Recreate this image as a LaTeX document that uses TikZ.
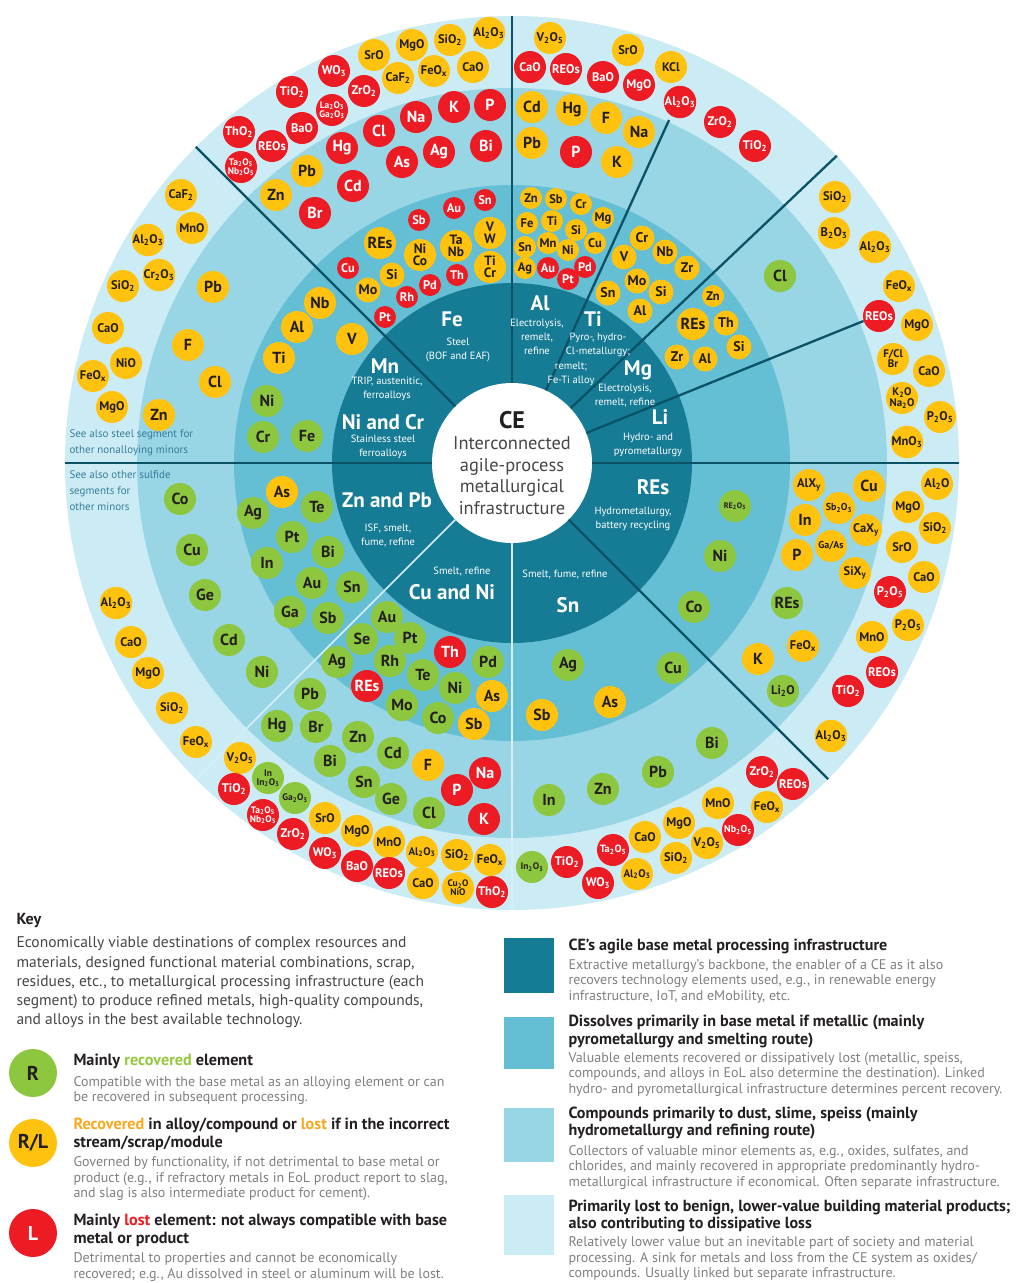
\documentclass[tikz,border=0pt]{standalone}
\usepackage{fontspec}
\setmainfont{PT Sans}
\usepackage{tikz}
\usetikzlibrary{positioning,calc}

\definecolor{grn}{RGB}{141,198,63}
\definecolor{ylw}{RGB}{255,194,14}
\definecolor{rd}{RGB}{237,28,36}
\definecolor{txt}{RGB}{35,31,32}
\definecolor{ringA}{RGB}{22,124,149}
\definecolor{ringB}{RGB}{100,190,212}
\definecolor{ringC}{RGB}{152,213,229}
\definecolor{ringD}{RGB}{204,236,245}
\definecolor{lineclr}{RGB}{12,82,102}
\definecolor{sepclr}{RGB}{215,240,248}
\definecolor{seetxt}{RGB}{55,125,155}
\definecolor{grnt}{RGB}{150,200,60}
\definecolor{orgt}{RGB}{247,168,30}
\definecolor{keygray}{RGB}{128,128,128}
\definecolor{cegray}{RGB}{70,70,70}

\newcommand{\subi}[1]{\textsubscript{#1}}

\tikzset{
  bub/.style={circle, inner sep=0pt, minimum size=32pt, align=center,
              font=\fontsize{16}{14}\selectfont\bfseries},
  rec/.style={bub, fill=grn, text=txt},
  mix/.style={bub, fill=ylw, text=txt},
  lost/.style={bub, fill=rd, text=white},
  cpd/.style={font=\fontsize{12.5}{11}\selectfont\bfseries},
  twocpd/.style={font=\fontsize{9.5}{9}\selectfont\bfseries},
  twoel/.style={font=\fontsize{13.5}{11.5}\selectfont\bfseries},
  sml/.style={minimum size=22pt, font=\fontsize{12.5}{11}\selectfont\bfseries},
  medb/.style={minimum size=25pt, font=\fontsize{14}{12}\selectfont\bfseries},
  divider/.style={draw=lineclr, line width=2.3pt},
  lightsep/.style={draw=sepclr, line width=1.6pt},
  seg/.style={text=white, font=\fontsize{21}{21}\selectfont\bfseries},
  proc/.style={text=white, align=center, font=\fontsize{10.5}{14}\selectfont},
  seealso/.style={anchor=west, align=left, text=seetxt, font=\fontsize{11}{16}\selectfont},
  khead/.style={anchor=west, align=left, text=txt, font=\fontsize{16.2}{18}\selectfont\bfseries},
  kbody/.style={anchor=west, align=left, text=keygray, font=\fontsize{14}{15.5}\selectfont},
  sq/.style={minimum width=50pt, inner sep=0pt},
}

\begin{document}
\begin{tikzpicture}[x=1pt,y=-1pt]
  \useasboundingbox (0,0) rectangle (1023,1283);
  \fill[white] (0,0) rectangle (1023,1283);

  \coordinate (c) at (512,463);
  \fill[ringD] (c) circle (447pt);
  \fill[ringC] (c) circle (375pt);
  \fill[ringB] (c) circle (278pt);
  \fill[ringA] (c) circle (180pt);
  \node[circle, fill=white, minimum size=160pt, inner sep=0pt, align=center,
        text=cegray, font=\fontsize{18.4}{21.5}\selectfont] (ce) at (c)
        {{\fontsize{24}{27}\selectfont\bfseries\color{txt}CE}\\Interconnected\\agile-process\\metallurgical\\infrastructure};

  \draw[divider] (ce.90) -- ++(90:367pt);
  \draw[divider] (ce.135) -- ++(135:367pt);
  \draw[divider] (ce.180) -- ++(180:367pt);
  \draw[divider] (ce.0) -- ++(0:367pt);
  \draw[divider] (ce.-45) -- ++(-45:367pt);
  \draw[divider] (ce.43.5) -- ++(43.5:367pt);
  \draw[divider] (ce.65.5) -- ++(65.5:297pt);
  \draw[divider] (ce.22) -- ++(22:299pt);
  \draw[lightsep] (ce.-90) -- ++(-90:367pt);
  \draw[lightsep] (ce.225) -- ++(225:367pt);

  % base metal segments
  \node[seg] (fe) at (452,319) {Fe};
  \node[proc] (fe-p) at (458,350) {Steel\\(BOF and EAF)};
  \node[seg] (al) at (540,303) {Al};
  \node[proc] (al-p) at (537,337) {Electrolysis,\\remelt,\\refine};
  \node[seg] (ti) at (593,319) {Ti};
  \node[proc] (ti-p) at (598,345) {Pyro-, hydro-\\Cl-metallurgy;};
  \node[proc] (ti-p2) at (571,374) {remelt;\\Fe-Ti alloy};
  \node[seg] (mg) at (638,370) {Mg};
  \node[proc] (mg-p) at (625,396) {Electrolysis,\\remelt, refine};
  \node[seg] (li) at (660,417) {Li};
  \node[proc] (li-p) at (648,445) {Hydro- and\\pyrometallurgy};
  \node[seg] (res) at (653,487) {REs};
  \node[proc] (res-p) at (633,519) {Hydrometallurgy,\\battery recycling};
  \node[proc] (sn-p) at (565,575) {Smelt, fume, refine};
  \node[seg] (sn) at (568,605) {Sn};
  \node[proc] (cuni-p) at (462,572) {Smelt, refine};
  \node[seg] (cuni) at (452,592) {Cu and Ni};
  \node[seg] (znpb) at (387,500) {Zn and Pb};
  \node[proc] (znpb-p) at (388,536) {ISF, smelt,\\fume, refine};
  \node[seg] (nicr) at (383,422) {Ni and Cr};
  \node[proc] (nicr-p) at (383,447) {Stainless steel\\ferroalloys};
  \node[seg] (mn) at (385,366) {Mn};
  \node[proc] (mn-p) at (387,389) {TRIP, austenitic,\\ferroalloys};

  \node[seealso] (see1) at (66,443) {See also steel segment for\\other nonalloying minors};
  \node[seealso] (see2) at (66,491) {See also other sulfide\\segments for\\other minors};

  % Fe
  \node[mix,cpd] (SrO-fe) at (374,55) {SrO};
  \node[mix,cpd] (MgO-fe) at (412,45) {MgO};
  \node[mix,cpd] (SiO2-fe) at (450,40) {SiO\subi{2}};
  \node[mix,cpd] (Al2O3-fe) at (489,33) {Al\subi{2}O\subi{3}};
  \node[mix,cpd] (CaF2-fe) at (398,78) {CaF\subi{2}};
  \node[mix,cpd] (FeOx-fe) at (434,71) {FeO\subi{x}};
  \node[mix,cpd] (CaO-fe) at (473,67) {CaO};
  \node[lost,cpd] (WO3-fe) at (334,71) {WO\subi{3}};
  \node[lost,cpd] (TiO2-fe) at (292,92) {TiO\subi{2}};
  \node[lost,cpd] (ZrO2-fe) at (364,91) {ZrO\subi{2}};
  \node[lost,twocpd] (LaGa-fe) at (332,110) {La\subi{2}O\subi{3}\\Ga\subi{2}O\subi{3}};
  \node[lost,cpd] (ThO2-fe) at (239,132) {ThO\subi{2}};
  \node[lost,cpd] (BaO-fe) at (302,128) {BaO};
  \node[lost,cpd] (REOs-fe) at (272,146) {REOs};
  \node[lost,twocpd] (TaNbO-fe) at (241,167) {Ta\subi{2}O\subi{5}\\Nb\subi{2}O\subi{5}};
  \node[lost] (Na-fe) at (416,117) {Na};
  \node[lost] (K-fe) at (454,107) {K};
  \node[lost] (P-fe) at (490,105) {P};
  \node[lost] (Cl-fe) at (379,131) {Cl};
  \node[lost] (Hg-fe) at (342,148) {Hg};
  \node[lost] (As-fe) at (402,162) {As};
  \node[lost] (Ag-fe) at (439,152) {Ag};
  \node[lost] (Bi-fe) at (486,146) {Bi};
  \node[lost] (Cd-fe) at (353,186) {Cd};
  \node[lost] (Br-fe) at (315,213) {Br};
  \node[mix] (Pb-fe) at (307,171) {Pb};
  \node[mix] (Zn-fe) at (276,195) {Zn};
  \node[lost,sml] (Sn-fe) at (485,200) {Sn};
  \node[lost,sml] (Au-fe) at (454,208) {Au};
  \node[lost,sml] (Sb-fe) at (419,220) {Sb};
  \node[mix] (REs-fe) at (380,243) {REs};
  \node[mix,twoel] (NiCo-fe) at (420,255) {Ni\\Co};
  \node[mix,twoel] (TaNb-fe) at (456,246) {Ta\\Nb};
  \node[mix,twoel] (VW-fe) at (490,233) {V\\W};
  \node[mix,twoel] (TiCr-fe) at (490,267) {Ti\\Cr};
  \node[lost,sml] (Cu-fe) at (348,268) {Cu};
  \node[mix,medb] (Si-fe) at (392,275) {Si};
  \node[lost,sml] (Pd-fe) at (430,285) {Pd};
  \node[lost,sml] (Th-fe) at (457,275) {Th};
  \node[mix,medb] (Mo-fe) at (368,290) {Mo};
  \node[lost,sml] (Rh-fe) at (407,297) {Rh};
  \node[lost,sml] (Pt-fe) at (385,317) {Pt};

  % Mn, Ni and Cr
  \node[mix] (Nb-mn) at (320,303) {Nb};
  \node[mix] (V-mn) at (352,339) {V};
  \node[mix] (Al-mn) at (297,327) {Al};
  \node[mix] (Ti-mn) at (279,358) {Ti};
  \node[rec] (Ni-mn) at (267,401) {Ni};
  \node[rec] (Cr-mn) at (263,437) {Cr};
  \node[rec] (Fe-mn) at (307,436) {Fe};
  \node[mix] (Pb-mn) at (213,287) {Pb};
  \node[mix] (F-mn) at (188,345) {F};
  \node[mix] (Cl-mn) at (215,382) {Cl};
  \node[mix,cpd] (CaF2-mn) at (181,195) {CaF\subi{2}};
  \node[mix,cpd] (MnO-mn) at (192,228) {MnO};
  \node[mix,cpd] (Al2O3-mn) at (148,240) {Al\subi{2}O\subi{3}};
  \node[mix,cpd] (Cr2O3-mn) at (159,275) {Cr\subi{2}O\subi{3}};
  \node[mix,cpd] (SiO2-mn) at (123,286) {SiO\subi{2}};
  \node[mix,cpd] (CaO-mn) at (108,328) {CaO};
  \node[mix,cpd] (NiO-mn) at (126,363) {NiO};
  \node[mix,cpd] (FeOx-mn) at (93,376) {FeO\subi{x}};
  \node[mix,cpd] (MgO-mn) at (112,407) {MgO};
  \node[mix] (Zn-mn) at (159,415) {Zn};

  % Al
  \node[mix,cpd] (V2O5-al) at (550,38) {V\subi{2}O\subi{5}};
  \node[lost,cpd] (CaO-al) at (530,67) {CaO};
  \node[lost,cpd] (REOs-al) at (566,69) {REOs};
  \node[lost,cpd] (BaO-al) at (603,77) {BaO};
  \node[mix,cpd] (SrO-al) at (628,50) {SrO};
  \node[lost,cpd] (MgO-al) at (639,85) {MgO};
  \node[mix,cpd] (KCl-al) at (671,67) {KCl};
  \node[lost,cpd] (Al2O3-al) at (680,102) {Al\subi{2}O\subi{3}};
  \node[mix] (Cd-al) at (532,107) {Cd};
  \node[mix] (Hg-al) at (572,110) {Hg};
  \node[mix] (F-al) at (606,118) {F};
  \node[mix] (Na-al) at (639,132) {Na};
  \node[mix] (Pb-al) at (532,143) {Pb};
  \node[lost] (P-al) at (576,152) {P};
  \node[mix] (K-al) at (617,162) {K};
  \node[mix,sml] (Zn-al) at (531,198) {Zn};
  \node[mix,sml] (Sb-al) at (556,199) {Sb};
  \node[mix,sml] (Cr-al) at (581,204) {Cr};
  \node[mix,sml] (Mg-al) at (603,218) {Mg};
  \node[mix,sml] (Fe-al) at (527,223) {Fe};
  \node[mix,sml] (Ti-al) at (552,221) {Ti};
  \node[mix,sml] (Si-al) at (576,230) {Si};
  \node[mix,sml] (Cu-al) at (595,243) {Cu};
  \node[mix,sml] (Sn-al) at (525,247) {Sn};
  \node[mix,sml] (Mn-al) at (548,243) {Mn};
  \node[mix,sml] (Ni-al) at (568,250) {Ni};
  \node[mix,sml] (Ag-al) at (525,268) {Ag};
  \node[lost,sml] (Au-al) at (548,268) {Au};
  \node[lost,sml] (Pt-al) at (568,279) {Pt};
  \node[lost,sml] (Pd-al) at (585,267) {Pd};

  % Ti
  \node[lost,cpd] (ZrO2-ti) at (720,122) {ZrO\subi{2}};
  \node[lost,cpd] (TiO2-ti) at (755,146) {TiO\subi{2}};
  \node[mix,medb] (Cr-ti) at (642,238) {Cr};
  \node[mix,medb] (V-ti) at (624,257) {V};
  \node[mix,medb] (Nb-ti) at (665,252) {Nb};
  \node[mix,medb] (Zr-ti) at (687,268) {Zr};
  \node[mix,medb] (Mo-ti) at (637,281) {Mo};
  \node[mix,medb] (Si-ti) at (661,292) {Si};
  \node[mix,medb] (Sn-ti) at (608,293) {Sn};
  \node[mix,medb] (Al-ti) at (640,311) {Al};

  % Mg, Li
  \node[mix,sml] (Zn-mg) at (713,296) {Zn};
  \node[mix] (REs-mg) at (693,324) {REs};
  \node[mix,medb] (Th-mg) at (726,323) {Th};
  \node[mix,medb] (Si-mg) at (739,347) {Si};
  \node[mix,medb] (Zr-mg) at (677,357) {Zr};
  \node[mix,medb] (Al-mg) at (705,359) {Al};
  \node[rec] (Cl-mg) at (780,276) {Cl};
  \node[mix,cpd] (SiO2-mg) at (835,197) {SiO\subi{2}};
  \node[mix,cpd] (B2O3-mg) at (834,233) {B\subi{2}O\subi{3}};
  \node[mix,cpd] (Al2O3-mg) at (875,247) {Al\subi{2}O\subi{3}};
  \node[mix,cpd] (FeOx-mg) at (899,286) {FeO\subi{x}};
  \node[lost,cpd] (REOs-mg) at (879,316) {REOs};
  \node[mix,cpd] (MgO-mg) at (917,325) {MgO};
  \node[mix,font=\fontsize{11}{10}\selectfont\bfseries] (FClBr-mg) at (893,359) {F/Cl\\Br};
  \node[mix,cpd] (CaO-mg) at (929,371) {CaO};
  \node[mix,font=\fontsize{11}{9.5}\selectfont\bfseries] (KNaO-mg) at (902,398) {K\subi{2}O\\Na\subi{2}O};
  \node[mix,cpd] (P2O5-mg) at (940,417) {P\subi{2}O\subi{5}};
  \node[mix,cpd] (MnO3-mg) at (907,442) {MnO\subi{3}};

  % REs
  \node[rec,font=\fontsize{8}{7}\selectfont\bfseries] (RE2O3-re) at (735,506) {RE\subi{2}O\subi{3}};
  \node[rec] (Ni-re) at (720,556) {Ni};
  \node[rec] (Co-re) at (694,607) {Co};
  \node[mix,cpd] (AlXy-re) at (809,485) {AlX\subi{y}};
  \node[mix] (Cu-re) at (869,486) {Cu};
  \node[mix,font=\fontsize{10}{9}\selectfont\bfseries] (Sb2O3-re) at (839,508) {Sb\subi{2}O\subi{3}};
  \node[mix] (In-re) at (805,520) {In};
  \node[mix,cpd] (CaXy-re) at (866,530) {CaX\subi{y}};
  \node[mix,font=\fontsize{10}{9}\selectfont\bfseries] (GaAs-re) at (831,546) {Ga/As};
  \node[mix] (P-re) at (797,555) {P};
  \node[mix,cpd] (SiXy-re) at (855,573) {SiX\subi{y}};
  \node[rec] (REs-re) at (787,603) {REs};
  \node[mix,cpd] (FeOx-re) at (803,646) {FeO\subi{x}};
  \node[mix] (K-re) at (758,659) {K};
  \node[rec,cpd] (Li2O-re) at (783,691) {Li\subi{2}O};
  \node[mix,cpd] (Al2O-re) at (937,484) {Al\subi{2}O};
  \node[mix,cpd] (MgO-re) at (908,507) {MgO};
  \node[mix,cpd] (SiO2-re) at (935,528) {SiO\subi{2}};
  \node[mix,cpd] (SrO-re) at (902,547) {SrO};
  \node[mix,cpd] (CaO-re) at (924,577) {CaO};
  \node[lost,cpd] (P2O5-re) at (890,592) {P\subi{2}O\subi{5}};
  \node[mix,cpd] (P2O5b-re) at (908,625) {P\subi{2}O\subi{5}};
  \node[mix,cpd] (MnO-re) at (872,637) {MnO};
  \node[lost,cpd] (REOs-re) at (882,672) {REOs};
  \node[lost,cpd] (TiO2-re) at (848,691) {TiO\subi{2}};
  \node[mix,cpd] (Al2O3-re) at (831,736) {Al\subi{2}O\subi{3}};

  % Sn
  \node[rec] (Ag-sn) at (568,665) {Ag};
  \node[rec] (Cu-sn) at (673,668) {Cu};
  \node[mix] (As-sn) at (610,702) {As};
  \node[mix] (Sb-sn) at (542,715) {Sb};
  \node[rec] (Bi-sn) at (712,743) {Bi};
  \node[rec] (Pb-sn) at (658,772) {Pb};
  \node[rec] (Zn-sn) at (603,789) {Zn};
  \node[rec] (In-sn) at (549,800) {In};
  \node[rec,font=\fontsize{9.5}{9}\selectfont\bfseries] (In2O3-sn) at (532,867) {In\subi{2}O\subi{3}};
  \node[lost,cpd] (TiO2-sn) at (567,862) {TiO\subi{2}};
  \node[lost,cpd] (WO3-sn) at (598,883) {WO\subi{3}};
  \node[lost,font=\fontsize{10.5}{9}\selectfont\bfseries] (Ta2O5-sn) at (613,850) {Ta\subi{2}O\subi{5}};
  \node[mix,font=\fontsize{11}{9}\selectfont\bfseries] (Al2O3-sn) at (637,874) {Al\subi{2}O\subi{3}};
  \node[mix,cpd] (CaO-sn) at (645,837) {CaO};
  \node[mix,cpd] (SiO2-sn) at (676,858) {SiO\subi{2}};
  \node[mix,cpd] (MgO-sn) at (679,823) {MgO};
  \node[mix,cpd] (V2O5-sn) at (707,843) {V\subi{2}O\subi{5}};
  \node[mix,cpd] (MnO-sn) at (718,803) {MnO};
  \node[lost,font=\fontsize{10}{9}\selectfont\bfseries] (Nb2O5-sn) at (738,830) {Nb\subi{2}O\subi{5}};
  \node[mix,cpd] (FeOx-sn) at (767,807) {FeO\subi{x}};
  \node[lost,cpd] (ZrO2-sn) at (762,772) {ZrO\subi{2}};
  \node[lost,cpd] (REOs-sn) at (793,784) {REOs};

  % Cu and Ni
  \node[rec] (Au-cn) at (387,617) {Au};
  \node[rec] (Se-cn) at (362,639) {Se};
  \node[rec] (Pt-cn) at (410,638) {Pt};
  \node[lost] (Th-cn) at (450,652) {Th};
  \node[rec] (Pd-cn) at (488,662) {Pd};
  \node[rec] (Ag-cn) at (337,662) {Ag};
  \node[rec] (Rh-cn) at (390,661) {Rh};
  \node[lost] (REs-cn) at (367,686) {REs};
  \node[rec] (Te-cn) at (423,675) {Te};
  \node[rec] (Ni-cn) at (455,688) {Ni};
  \node[mix] (As-cn) at (492,696) {As};
  \node[rec] (Mo-cn) at (402,705) {Mo};
  \node[rec] (Co-cn) at (438,718) {Co};
  \node[mix] (Sb-cn) at (474,724) {Sb};
  \node[rec] (Pb-cn) at (310,694) {Pb};
  \node[rec] (Hg-cn) at (277,726) {Hg};
  \node[rec] (Br-cn) at (316,727) {Br};
  \node[rec] (Zn-cn) at (358,737) {Zn};
  \node[rec] (Bi-cn) at (330,761) {Bi};
  \node[rec] (Cd-cn) at (393,753) {Cd};
  \node[rec] (Sn-cn) at (364,782) {Sn};
  \node[rec] (Ge-cn) at (391,799) {Ge};
  \node[rec] (Cl-cn) at (429,813) {Cl};
  \node[mix] (F-cn) at (428,765) {F};
  \node[lost] (Na-cn) at (485,773) {Na};
  \node[lost] (P-cn) at (457,790) {P};
  \node[lost] (K-cn) at (484,819) {K};
  \node[mix,cpd] (V2O5-cn) at (240,758) {V\subi{2}O\subi{5}};
  \node[rec,twocpd] (In-In2O3-cn) at (268,778) {In\\In\subi{2}O\subi{3}};
  \node[lost,cpd] (TiO2-cn) at (234,789) {TiO\subi{2}};
  \node[rec,font=\fontsize{9.5}{9}\selectfont\bfseries] (Ga2O3-cn) at (295,798) {Ga\subi{2}O\subi{3}};
  \node[lost,twocpd] (TaNbO-cn) at (263,815) {Ta\subi{2}O\subi{5}\\Nb\subi{2}O\subi{5}};
  \node[mix,cpd] (SrO-cn) at (325,818) {SrO};
  \node[lost,cpd] (ZrO2-cn) at (293,834) {ZrO\subi{2}};
  \node[mix,cpd] (MgO-cn) at (357,831) {MgO};
  \node[lost,cpd] (WO3-cn) at (325,853) {WO\subi{3}};
  \node[mix,cpd] (MnO-cn) at (389,842) {MnO};
  \node[lost,cpd] (BaO-cn) at (357,866) {BaO};
  \node[mix,font=\fontsize{11}{9}\selectfont\bfseries] (Al2O3-cn) at (422,852) {Al\subi{2}O\subi{3}};
  \node[lost,cpd] (REOs-cn) at (389,873) {REOs};
  \node[mix,cpd] (SiO2-cn) at (457,855) {SiO\subi{2}};
  \node[mix,cpd] (FeOx-cn) at (490,860) {FeO\subi{x}};
  \node[mix,cpd] (CaO-cn) at (423,883) {CaO};
  \node[mix,twocpd] (CuNiO-cn) at (458,888) {Cu\subi{2}O\\NiO};
  \node[lost,cpd] (ThO2-cn) at (492,892) {ThO\subi{2}};

  % Zn and Pb
  \node[mix] (As-zp) at (282,492) {As};
  \node[rec] (Ag-zp) at (253,513) {Ag};
  \node[rec] (Te-zp) at (317,507) {Te};
  \node[rec] (Pt-zp) at (292,537) {Pt};
  \node[rec] (Bi-zp) at (328,552) {Bi};
  \node[rec] (In-zp) at (267,563) {In};
  \node[rec] (Au-zp) at (312,583) {Au};
  \node[rec] (Sn-zp) at (352,587) {Sn};
  \node[rec] (Ga-zp) at (290,612) {Ga};
  \node[rec] (Sb-zp) at (328,618) {Sb};
  \node[rec] (Co-zp) at (180,499) {Co};
  \node[rec] (Cu-zp) at (192,550) {Cu};
  \node[rec] (Ge-zp) at (205,595) {Ge};
  \node[rec] (Cd-zp) at (229,640) {Cd};
  \node[rec] (Ni-zp) at (262,672) {Ni};
  \node[mix,cpd] (Al2O3-zp) at (116,603) {Al\subi{2}O\subi{3}};
  \node[mix,cpd] (CaO-zp) at (131,642) {CaO};
  \node[mix,cpd] (MgO-zp) at (148,673) {MgO};
  \node[mix,cpd] (SiO2-zp) at (172,708) {SiO\subi{2}};
  \node[mix,cpd] (FeOx-zp) at (196,742) {FeO\subi{x}};

  % key, left
  \node[anchor=west, text=txt, font=\fontsize{16}{16}\selectfont\bfseries] (key) at (13,921) {Key};
  \node[anchor=west, align=left, text=cegray, font=\fontsize{15.5}{19.25}\selectfont] (key-p) at (13,982.5)
    {Economically viable destinations of complex resources and\\
     materials, designed functional material combinations, scrap,\\
     residues, etc., to metallurgical processing infrastructure (each\\
     segment) to produce refined metals, high-quality compounds,\\
     and alloys in the best available technology.};
  \node[rec, minimum size=48pt, font=\fontsize{20}{20}\selectfont\bfseries] (kR) at (33,1073) {R};
  \node[mix, minimum size=48pt, font=\fontsize{20}{20}\selectfont\bfseries] (kRL) at (33,1143) {R/L};
  \node[lost, minimum size=48pt, font=\fontsize{20}{20}\selectfont\bfseries] (kL) at (33,1233) {L};
  \node[khead] (kR-h) at (70,1061) {Mainly \textcolor{grnt}{recovered} element};
  \node[kbody] (kR-b) at (70,1090.5) {Compatible with the base metal as an alloying element or can\\be recovered in subsequent processing.};
  \node[khead] (kRL-h) at (70,1134) {\textcolor{orgt}{Recovered} in alloy/compound or \textcolor{orgt}{lost} if in the incorrect\\stream/scrap/module};
  \node[kbody] (kRL-b) at (70,1179) {Governed by functionality, if not detrimental to base metal or\\product (e.g., if refractory metals in EoL product report to slag,\\and slag is also intermediate product for cement).};
  \node[khead] (kL-h) at (70,1230) {Mainly \textcolor{rd}{lost} element: not always compatible with base\\metal or product};
  \node[kbody] (kL-b) at (70,1267) {Detrimental to properties and cannot be economically\\recovered; e.g., Au dissolved in steel or aluminum will be lost.};

  % key, right
  \node[sq, fill=ringA, minimum height=55pt] (s1) at (529,965.5) {};
  \node[sq, fill=ringB, minimum height=52pt] (s2) at (529,1043) {};
  \node[sq, fill=ringC, minimum height=54pt] (s3) at (529,1135) {};
  \node[sq, fill=ringD, minimum height=60pt] (s4) at (529,1225) {};
  \node[khead, font=\fontsize{16.1}{17.5}\selectfont\bfseries] (s1-h) at (565,946) {CE’s agile base metal processing infrastructure};
  \node[kbody] (s1-b) at (565,981) {Extractive metallurgy’s backbone, the enabler of a CE as it also\\recovers technology elements used, e.g., in renewable energy\\infrastructure, IoT, and eMobility, etc.};
  \node[khead, font=\fontsize{16.1}{17.5}\selectfont\bfseries] (s2-h) at (565,1031.5) {Dissolves primarily in base metal if metallic (mainly\\pyrometallurgy and smelting route)};
  \node[kbody] (s2-b) at (565,1074) {Valuable elements recovered or dissipatively lost (metallic, speiss,\\compounds, and alloys in EoL also determine the destination). Linked\\hydro- and pyrometallurgical infrastructure determines percent recovery.};
  \node[khead, font=\fontsize{16.1}{17.5}\selectfont\bfseries] (s3-h) at (565,1123) {Compounds primarily to dust, slime, speiss (mainly\\hydrometallurgy and refining route)};
  \node[kbody] (s3-b) at (565,1167) {Collectors of valuable minor elements as, e.g., oxides, sulfates, and\\chlorides, and mainly recovered in appropriate predominantly hydro-\\metallurgical infrastructure if economical. Often separate infrastructure.};
  \node[khead, font=\fontsize{16.1}{17.5}\selectfont\bfseries] (s4-h) at (565,1216) {Primarily lost to benign, lower-value building material products;\\also contributing to dissipative loss};
  \node[kbody] (s4-b) at (565,1258.5) {Relatively lower value but an inevitable part of society and material\\processing. A sink for metals and loss from the CE system as oxides/\\compounds. Usually linked but separate infrastructure.};
\end{tikzpicture}
\end{document}
